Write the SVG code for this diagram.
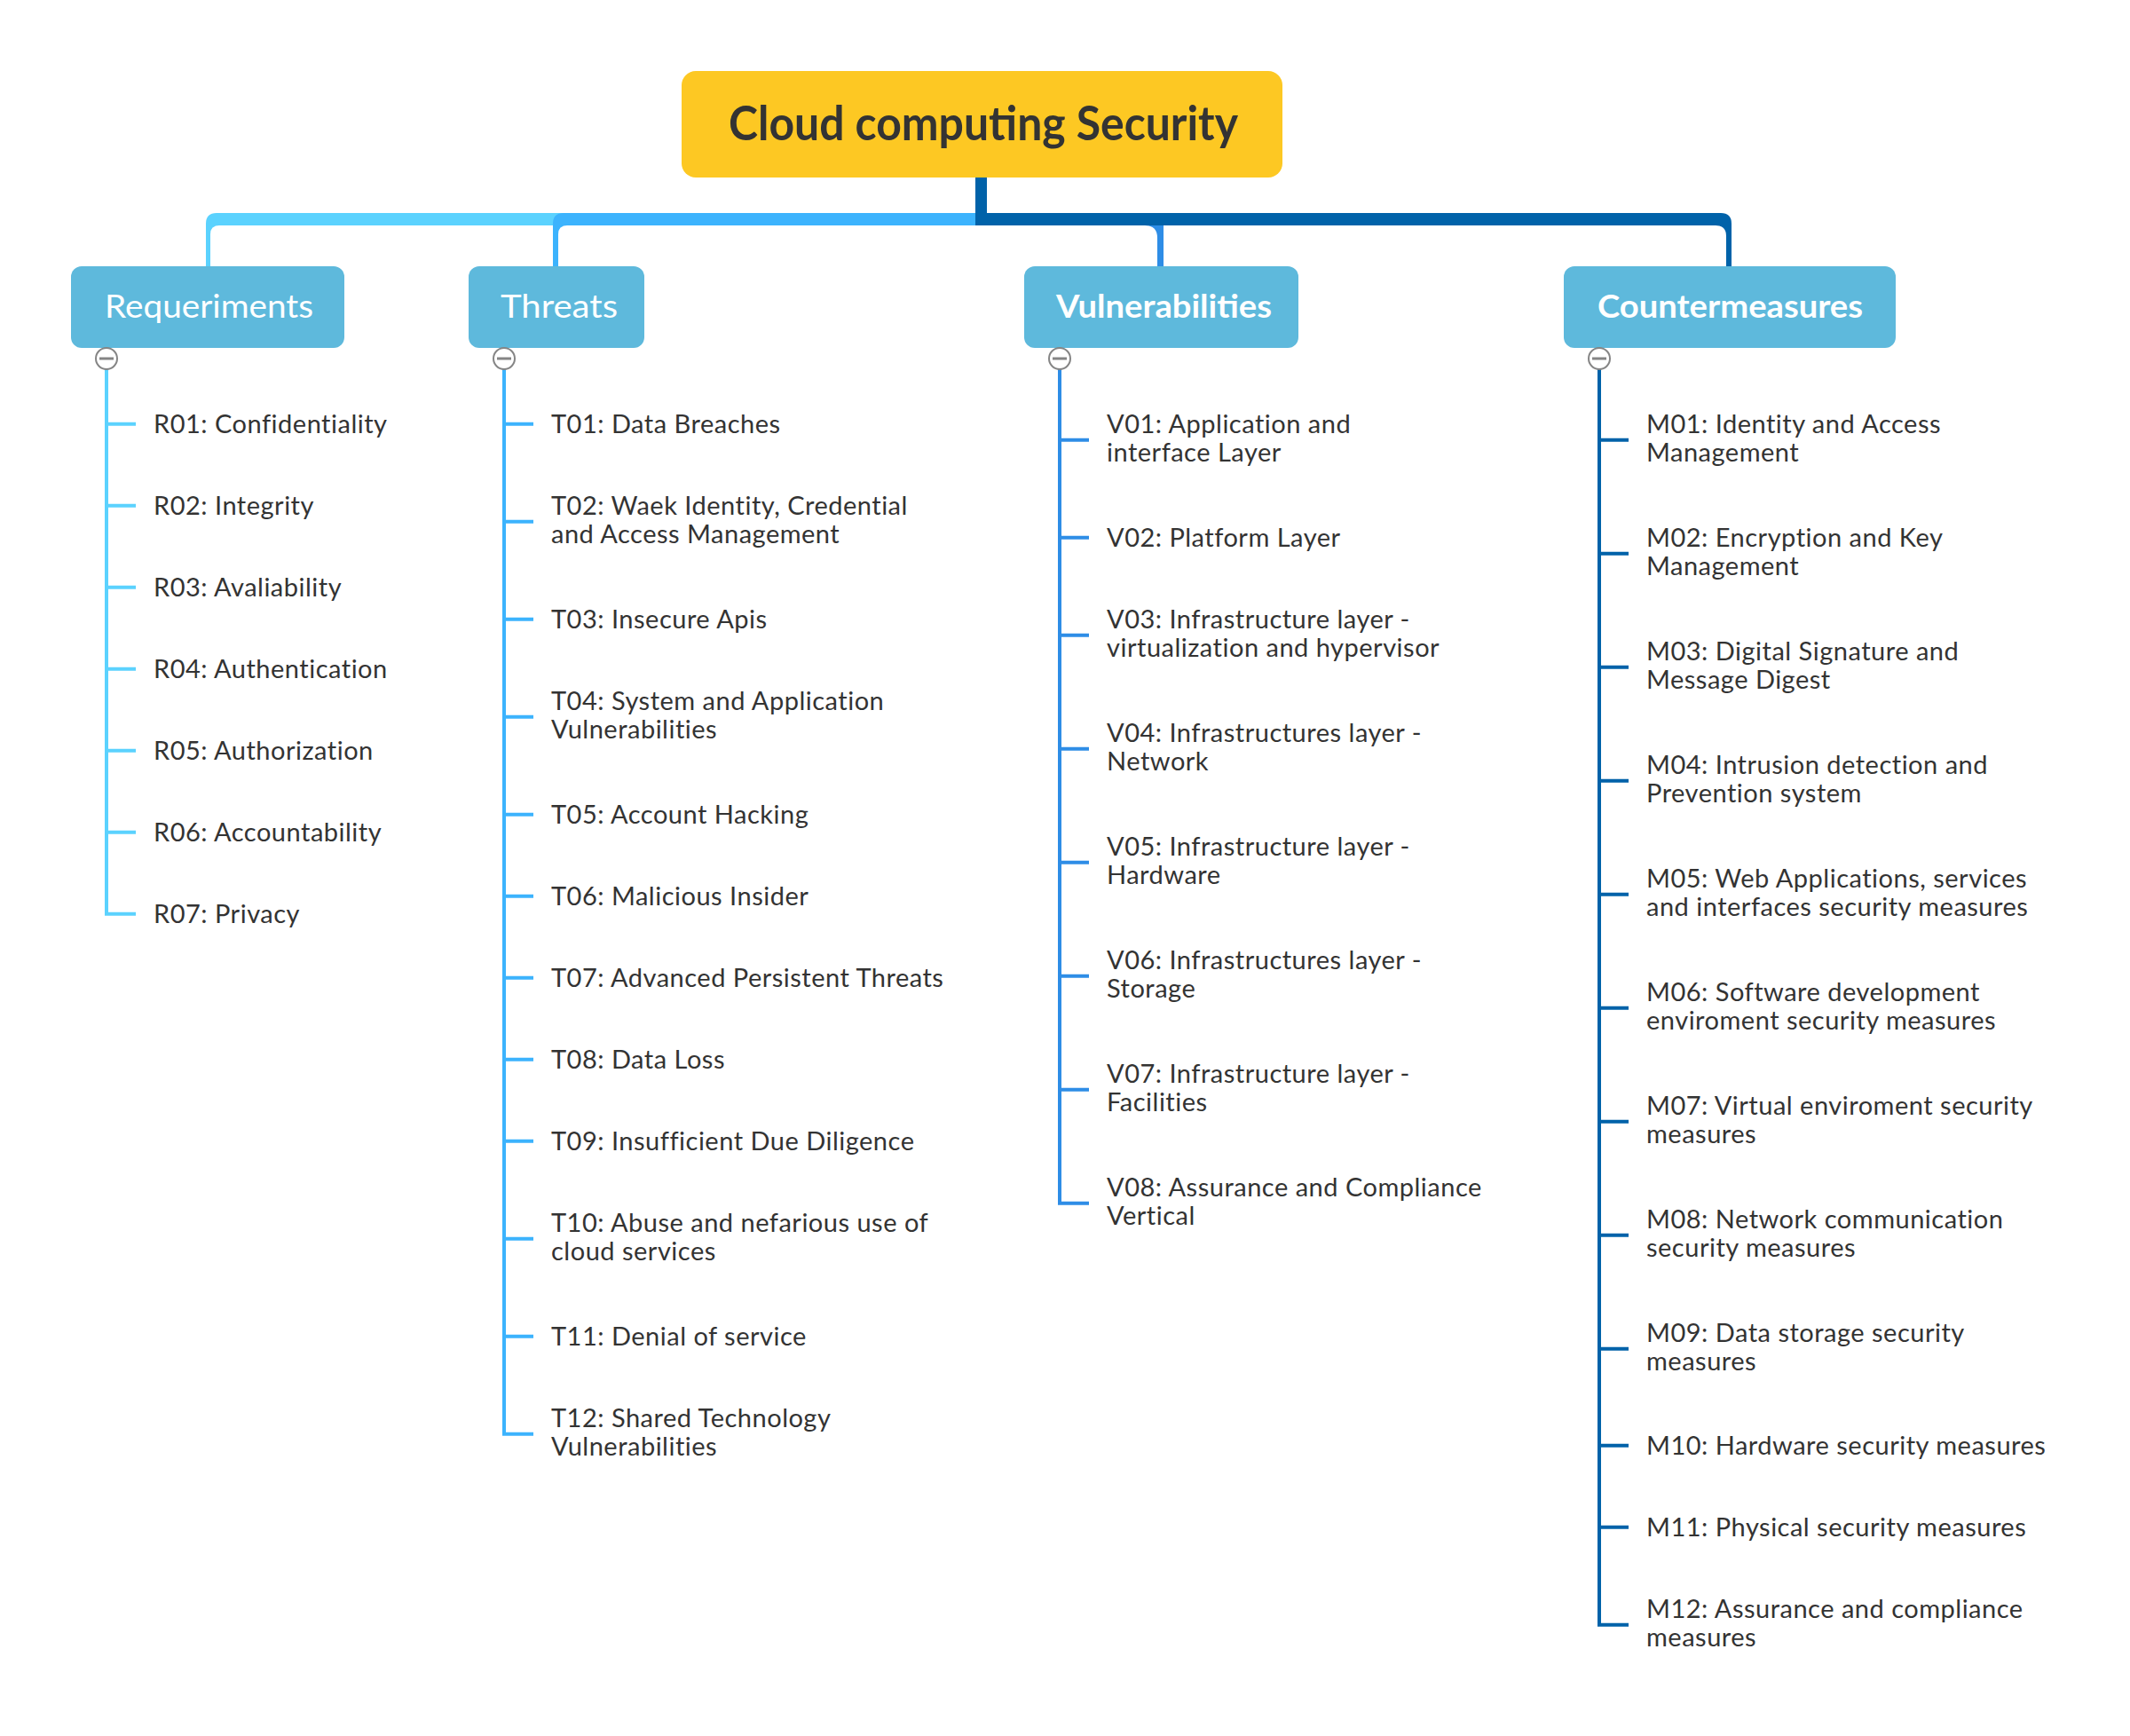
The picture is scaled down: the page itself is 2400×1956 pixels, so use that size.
<svg xmlns="http://www.w3.org/2000/svg" width="2400" height="1956" viewBox="0 0 2400 1956">
<style>
.item{font-family:Lato,"Liberation Sans",sans-serif;font-size:29px;fill:#333333;letter-spacing:0.5px}
.hdr{font-family:Lato,"Liberation Sans",sans-serif;font-size:37px;fill:#ffffff;text-anchor:middle}
.box{fill:#5eb9dc}
.col{fill:#ffffff;stroke:#858585;stroke-width:2}
.minus{stroke:#858585;stroke-width:3}
.req{stroke:#5bd2fe;stroke-width:4;fill:none}
.thr{stroke:#3cb3fd;stroke-width:4;fill:none}
.vul{stroke:#2e8de6;stroke-width:4;fill:none}
.cnt{stroke:#0062a9;stroke-width:4;fill:none}
</style>
<rect width="2400" height="1956" fill="#ffffff"/>
<g id="connectors">
  <path d="M1105 240 L244 240 Q232 240 232 252 L232 300 L237 300 L237 264 Q237 254 247 254 L1105 254 Z" fill="#5bd2fe"/>
  <path d="M1105 240 L635 240 Q623 240 623 252 L623 300 L629 300 L629 264 Q629 254 639 254 L1105 254 Z" fill="#3cb3fd"/>
  <path d="M1105 240 L1299 240 Q1311 240 1311 252 L1311 300 L1304 300 L1304 268 Q1304 254 1290 254 L1105 254 Z" fill="#2e8de6"/>
  <path d="M1105 240 L1939 240 Q1951 240 1951 252 L1951 300 L1945 300 L1945 266 Q1945 254 1933 254 L1105 254 Z" fill="#0062a9"/>
  <rect x="1099" y="198" width="13" height="56" fill="#0062a9"/>
  <path class="req" d="M120 416 V1029.7 H153 M120 477.7 H153 M120 569.7 H153 M120 661.7 H153 M120 753.7 H153 M120 845.7 H153 M120 937.7 H153"/>
  <path class="thr" d="M568 416 V1615.7 H601 M568 477.7 H601 M568 587.7 H601 M568 697.7 H601 M568 807.7 H601 M568 917.7 H601 M568 1009.7 H601 M568 1101.7 H601 M568 1193.7 H601 M568 1285.7 H601 M568 1395.7 H601 M568 1505.7 H601"/>
  <path class="vul" d="M1194 416 V1355.7 H1227 M1194 495.7 H1227 M1194 605.7 H1227 M1194 715.7 H1227 M1194 843.7 H1227 M1194 971.7 H1227 M1194 1099.7 H1227 M1194 1227.7 H1227"/>
  <path class="cnt" d="M1802 416 V1830.7 H1835 M1802 495.7 H1835 M1802 623.7 H1835 M1802 751.7 H1835 M1802 879.7 H1835 M1802 1007.7 H1835 M1802 1135.7 H1835 M1802 1263.7 H1835 M1802 1391.7 H1835 M1802 1519.7 H1835 M1802 1628.7 H1835 M1802 1720.7 H1835"/>
</g>
<g id="root">
  <rect x="768" y="80" width="677" height="120" rx="16" fill="#fdc823"/>
  <text x="1108" y="158" text-anchor="middle" textLength="574" lengthAdjust="spacingAndGlyphs" style="font-family:Lato,'Liberation Sans',sans-serif;font-size:53px;font-weight:bold;fill:#333333">Cloud computing Security</text>
</g>
<g id="requirements">
  <rect class="box" x="80" y="300" width="308" height="92" rx="12"/>
  <text class="hdr" x="235.5" y="358" textLength="235" lengthAdjust="spacingAndGlyphs">Requeriments</text>
  <circle class="col" cx="120" cy="404" r="12"/><line class="minus" x1="112" y1="404" x2="128" y2="404"/>
</g>
<g id="threats">
  <rect class="box" x="528" y="300" width="198" height="92" rx="12"/>
  <text class="hdr" x="630" y="358" textLength="132" lengthAdjust="spacingAndGlyphs">Threats</text>
  <circle class="col" cx="568" cy="404" r="12"/><line class="minus" x1="560" y1="404" x2="576" y2="404"/>
</g>
<g id="vulnerabilities">
  <rect class="box" x="1154" y="300" width="309" height="92" rx="12"/>
  <text class="hdr" x="1311.5" y="358" font-weight="bold" textLength="243" lengthAdjust="spacingAndGlyphs">Vulnerabilities</text>
  <circle class="col" cx="1194" cy="404" r="12"/><line class="minus" x1="1186" y1="404" x2="1202" y2="404"/>
</g>
<g id="countermeasures">
  <rect class="box" x="1762" y="300" width="374" height="92" rx="12"/>
  <text class="hdr" x="1949.5" y="358" font-weight="bold" textLength="299" lengthAdjust="spacingAndGlyphs">Countermeasures</text>
  <circle class="col" cx="1802" cy="404" r="12"/><line class="minus" x1="1794" y1="404" x2="1810" y2="404"/>
</g>
<g id="R01"><text class="item" x="173" y="487.7">R01: Confidentiality</text></g>
<g id="R02"><text class="item" x="173" y="579.7">R02: Integrity</text></g>
<g id="R03"><text class="item" x="173" y="671.7">R03: Avaliability</text></g>
<g id="R04"><text class="item" x="173" y="763.7">R04: Authentication</text></g>
<g id="R05"><text class="item" x="173" y="855.7">R05: Authorization</text></g>
<g id="R06"><text class="item" x="173" y="947.7">R06: Accountability</text></g>
<g id="R07"><text class="item" x="173" y="1039.7">R07: Privacy</text></g>
<g id="T01"><text class="item" x="621" y="487.7">T01: Data Breaches</text></g>
<g id="T02"><text class="item" x="621" y="579.7">T02: Waek Identity, Credential<tspan x="621" y="611.7">and Access Management</tspan></text></g>
<g id="T03"><text class="item" x="621" y="707.7">T03: Insecure Apis</text></g>
<g id="T04"><text class="item" x="621" y="799.7">T04: System and Application<tspan x="621" y="831.7">Vulnerabilities</tspan></text></g>
<g id="T05"><text class="item" x="621" y="927.7">T05: Account Hacking</text></g>
<g id="T06"><text class="item" x="621" y="1019.7">T06: Malicious Insider</text></g>
<g id="T07"><text class="item" x="621" y="1111.7">T07: Advanced Persistent Threats</text></g>
<g id="T08"><text class="item" x="621" y="1203.7">T08: Data Loss</text></g>
<g id="T09"><text class="item" x="621" y="1295.7">T09: Insufficient Due Diligence</text></g>
<g id="T10"><text class="item" x="621" y="1387.7">T10: Abuse and nefarious use of<tspan x="621" y="1419.7">cloud services</tspan></text></g>
<g id="T11"><text class="item" x="621" y="1515.7">T11: Denial of service</text></g>
<g id="T12"><text class="item" x="621" y="1607.7">T12: Shared Technology<tspan x="621" y="1639.7">Vulnerabilities</tspan></text></g>
<g id="V01"><text class="item" x="1247" y="487.7">V01: Application and<tspan x="1247" y="519.7">interface Layer</tspan></text></g>
<g id="V02"><text class="item" x="1247" y="615.7">V02: Platform Layer</text></g>
<g id="V03"><text class="item" x="1247" y="707.7">V03: Infrastructure layer -<tspan x="1247" y="739.7">virtualization and hypervisor</tspan></text></g>
<g id="V04"><text class="item" x="1247" y="835.7">V04: Infrastructures layer -<tspan x="1247" y="867.7">Network</tspan></text></g>
<g id="V05"><text class="item" x="1247" y="963.7">V05: Infrastructure layer -<tspan x="1247" y="995.7">Hardware</tspan></text></g>
<g id="V06"><text class="item" x="1247" y="1091.7">V06: Infrastructures layer -<tspan x="1247" y="1123.7">Storage</tspan></text></g>
<g id="V07"><text class="item" x="1247" y="1219.7">V07: Infrastructure layer -<tspan x="1247" y="1251.7">Facilities</tspan></text></g>
<g id="V08"><text class="item" x="1247" y="1347.7">V08: Assurance and Compliance<tspan x="1247" y="1379.7">Vertical</tspan></text></g>
<g id="M01"><text class="item" x="1855" y="487.7">M01: Identity and Access<tspan x="1855" y="519.7">Management</tspan></text></g>
<g id="M02"><text class="item" x="1855" y="615.7">M02: Encryption and Key<tspan x="1855" y="647.7">Management</tspan></text></g>
<g id="M03"><text class="item" x="1855" y="743.7">M03: Digital Signature and<tspan x="1855" y="775.7">Message Digest</tspan></text></g>
<g id="M04"><text class="item" x="1855" y="871.7">M04: Intrusion detection and<tspan x="1855" y="903.7">Prevention system</tspan></text></g>
<g id="M05"><text class="item" x="1855" y="999.7">M05: Web Applications, services<tspan x="1855" y="1031.7">and interfaces security measures</tspan></text></g>
<g id="M06"><text class="item" x="1855" y="1127.7">M06: Software development<tspan x="1855" y="1159.7">enviroment security measures</tspan></text></g>
<g id="M07"><text class="item" x="1855" y="1255.7">M07: Virtual enviroment security<tspan x="1855" y="1287.7">measures</tspan></text></g>
<g id="M08"><text class="item" x="1855" y="1383.7">M08: Network communication<tspan x="1855" y="1415.7">security measures</tspan></text></g>
<g id="M09"><text class="item" x="1855" y="1511.7">M09: Data storage security<tspan x="1855" y="1543.7">measures</tspan></text></g>
<g id="M10"><text class="item" x="1855" y="1638.7">M10: Hardware security measures</text></g>
<g id="M11"><text class="item" x="1855" y="1730.7">M11: Physical security measures</text></g>
<g id="M12"><text class="item" x="1855" y="1822.7">M12: Assurance and compliance<tspan x="1855" y="1854.7">measures</tspan></text></g>
</svg>
